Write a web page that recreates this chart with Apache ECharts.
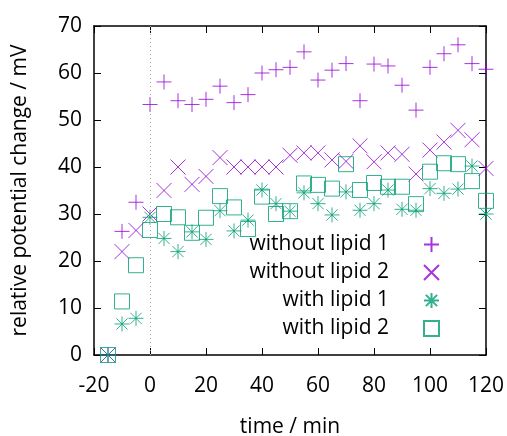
<!DOCTYPE html>
<html>
<head>
<meta charset="utf-8">
<script src="https://cdn.jsdelivr.net/npm/echarts@6/dist/echarts.min.js"></script>
<style>html,body{margin:0;padding:0;background:#fff}#c{width:507px;height:436px}</style>
</head>
<body>
<div id="c"></div>
<script>
const times = [-15,-10,-5,0,5,10,15,20,25,30,35,40,45,50,55,60,65,70,75,80,85,90,95,100,105,110,115,120];
const withoutLipid1 = [0,26.3,32.5,53.3,58.1,54.1,53.3,54.4,57.2,53.7,55.4,60.0,60.7,61.2,64.5,58.5,60.6,62.0,54.1,61.9,61.5,57.4,52.1,61.2,64.1,66.0,62.0,60.8];
const withoutLipid2 = [0,22.0,26.5,30.0,35.0,40.0,36.3,38.0,42.0,40.0,40.0,40.0,40.0,42.5,43.0,43.0,41.5,41.2,44.5,41.1,43.0,42.7,38.5,43.6,45.3,47.8,45.8,39.7];
const withLipid1 = [0,6.6,7.8,29.3,24.8,22.0,26.2,24.6,30.7,26.4,28.7,35.1,32.2,30.6,34.5,32.2,29.8,34.7,30.8,32.2,35.1,31.0,30.8,35.4,34.4,35.3,40.2,30.0];
const withLipid2 = [0,11.4,19.1,26.6,30.0,29.3,26.0,29.2,33.8,31.4,26.8,33.7,30.0,30.6,36.5,36.2,35.4,40.6,35.1,36.6,35.8,35.8,32.1,39.0,40.8,40.6,37.0,32.8];
const seriesNames = ['without lipid 1','without lipid 2','with lipid 1','with lipid 2'];
const xTitle = 'time / min';
const yTitle = 'relative potential change / mV';

const PURPLE = '#9400d3', GREEN = '#009e73';
const SYM = {
  plus: 'path://M8,0L8,16M0,8L16,8',
  cross: 'path://M0,0L16,16M16,0L0,16',
  star: 'path://M8,0L8,16M0,8L16,8M2,2L14,14M14,2L2,14',
  square: 'path://M0,0L16,0L16,16L0,16Z'
};
const FONT = 'Open Sans';
const FS = 21;
const pairs = arr => times.map((t,i)=>[t,arr[i]]);

function mkSeries(name, data, sym, color, extra) {
  return Object.assign({
    name, type: 'scatter', data: pairs(data), symbol: sym, symbolSize: 15,
    itemStyle: { color: 'rgba(0,0,0,0)', borderColor: color, borderWidth: 1 },
    emphasis: { disabled: true }, z: 3
  }, extra || {});
}

const legendRows = [242, 270, 298, 326];
const legends = seriesNames.map((n,i)=>({
  data: [n], orient: 'vertical', align: 'right', right: 67, top: legendRows[i] - 8,
  itemWidth: 15, itemHeight: 15, selectedMode: false, padding: 0,
  textStyle: { fontFamily: FONT, fontSize: FS, color: '#000', padding: [0, 30, 0, 0] }
}));

const chart = echarts.init(document.getElementById('c'), null, {renderer: 'canvas'});
const axisCommon = {
  type: 'value', splitLine: { show: false },
  axisLine: { show: true, onZero: false, lineStyle: { color: '#000', width: 1.5 } },
  axisTick: { show: true, inside: true, length: 7, lineStyle: { color: '#000', width: 1 } }
};
chart.setOption({
  animation: false,
  grid: { left: 94, right: 21, top: 26, bottom: 81, outerBoundsMode: 'none', containLabel: false },
  legend: legends,
  xAxis: [
    Object.assign({}, axisCommon, { min: -20, max: 120, interval: 20, position: 'bottom',
      name: xTitle, nameLocation: 'middle', nameGap: 62,
      nameTextStyle: { fontFamily: FONT, fontSize: FS, color: '#000' },
      axisLabel: { fontFamily: FONT, fontSize: FS, color: '#000', margin: 21 } }),
    Object.assign({}, axisCommon, { min: -20, max: 120, interval: 20, position: 'top', axisLabel: { show: false } })
  ],
  yAxis: [
    Object.assign({}, axisCommon, { min: 0, max: 70, interval: 10, position: 'left',
      name: yTitle, nameLocation: 'middle', nameGap: 63,
      nameTextStyle: { fontFamily: FONT, fontSize: FS, color: '#000' },
      axisLabel: { fontFamily: FONT, fontSize: FS, color: '#000', margin: 12 } }),
    Object.assign({}, axisCommon, { min: 0, max: 70, interval: 10, position: 'right', axisLabel: { show: false } })
  ],
  series: [
    mkSeries(seriesNames[0], withoutLipid1, SYM.plus, PURPLE, {
      markLine: { silent: true, symbol: 'none', label: { show: false },
        lineStyle: { color: '#aaa', type: [1, 3], width: 1 }, data: [{ xAxis: 0 }] }
    }),
    mkSeries(seriesNames[1], withoutLipid2, SYM.cross, PURPLE),
    mkSeries(seriesNames[2], withLipid1, SYM.star, GREEN),
    mkSeries(seriesNames[3], withLipid2, SYM.square, GREEN)
  ]
});
</script>
</body>
</html>
